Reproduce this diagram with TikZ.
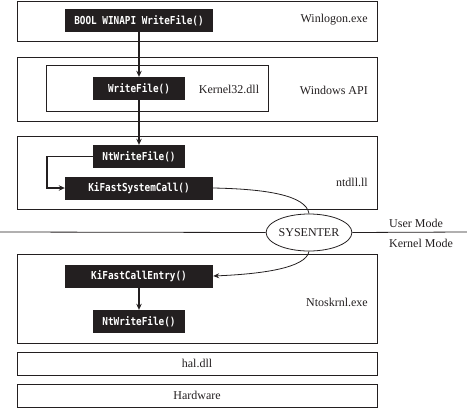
\documentclass[tikz,border=0pt]{standalone}
\usepackage{fontspec}
\setmainfont{Liberation Serif}
\newfontfamily\codefont[FakeStretch=0.85]{DejaVu Sans Mono}
\usetikzlibrary{arrows.meta,shapes.geometric}
\definecolor{ink}{RGB}{35,31,32}
\begin{document}
\begin{tikzpicture}[x=1pt,y=-1pt,
  layer/.style={draw=ink, line width=0.9pt, inner sep=0pt},
  code/.style={fill=ink, text=white, inner sep=0pt, minimum height=23pt,
    font=\codefont\bfseries\fontsize{11}{12}\selectfont},
  lbl/.style={text=ink, inner sep=0pt, font=\fontsize{12}{14}\selectfont},
  arr/.style={draw=ink, line width=1.4pt, -{Stealth[length=6pt,width=5.5pt]}},
  thinarr/.style={draw=ink, line width=0.8pt, -{Stealth[length=6pt,width=5pt]}}]
\useasboundingbox (0,0) rectangle (467,408);
% layers
\node[layer, minimum width=360pt, minimum height=40pt] (winlogon) at (197,21) {};
\node[layer, minimum width=360pt, minimum height=64pt] (winapi) at (197,89) {};
\node[layer, minimum width=222pt, minimum height=46pt] (k32) at (157,88) {};
\node[layer, minimum width=360pt, minimum height=73pt] (ntdll) at (197,172.5) {};
\node[layer, minimum width=360pt, minimum height=89pt] (ntos) at (197,298.5) {};
\node[layer, minimum width=360pt, minimum height=23pt] (hal) at (197,363.5) {};
\node[layer, minimum width=360pt, minimum height=23pt] (hw) at (197,395.5) {};
% labels
\node[lbl, anchor=east] (lwin) at (368,20) {Winlogon.exe};
\node[lbl] (lk32) at (229,89) {Kernel32.dll};
\node[lbl, anchor=east] (lapi) at (368,90) {Windows API};
\node[lbl, anchor=east] (lnt) at (368,182) {ntdll.ll};
\node[lbl, anchor=east] (lntos) at (368,302) {Ntoskrnl.exe};
\node[lbl] (lhal) at (197,363.5) {hal.dll};
\node[lbl] (lhw) at (197,395.5) {Hardware};
\node[lbl, anchor=west] (um) at (389,223) {User Mode};
\node[lbl, anchor=west] (km) at (389,243) {Kernel Mode};
% code boxes
\node[code, minimum width=148pt] (bool) at (139,20.5) {BOOL WINAPI WriteFile()};
\node[code, minimum width=92pt] (wf) at (139,88.5) {WriteFile()};
\node[code, minimum width=92pt] (ntwf) at (139,156.5) {NtWriteFile()};
\node[code, minimum width=148pt] (kfsc) at (139,188) {KiFastSystemCall()};
\node[code, minimum width=148pt] (kfce) at (139,276) {KiFastCallEntry()};
\node[code, minimum width=92pt] (ntwf2) at (139,321.5) {NtWriteFile()};
% sysenter
\node[ellipse, draw=ink, line width=0.8pt, minimum width=82pt, minimum height=37pt, inner sep=0pt,
  font=\fontsize{12}{14}\selectfont, text=ink] (sys) at (309,232.5) {SYSENTER};
\coordinate (lend) at (0,232);
\coordinate (rend) at (467,232);
\draw[draw=ink, line width=0.8pt] (lend) -- (sys.west);
\draw[draw=ink, line width=0.8pt] (sys.east) -- (rend);
% arrows
\draw[arr] (bool.south) -- (wf.north);
\draw[arr] (wf.south) -- (ntwf.north);
\draw[arr] (ntwf.west) -- ++(-46,0) |- (kfsc.west);
\draw[arr] (kfce.south) -- (ntwf2.north);
\draw[draw=ink, line width=0.8pt] (kfsc.east) .. controls (265,189) and (306,195) .. (sys.north);
\draw[thinarr] (sys.south) .. controls (306,268) and (262,274) .. (kfce.east);
\end{tikzpicture}
\end{document}
